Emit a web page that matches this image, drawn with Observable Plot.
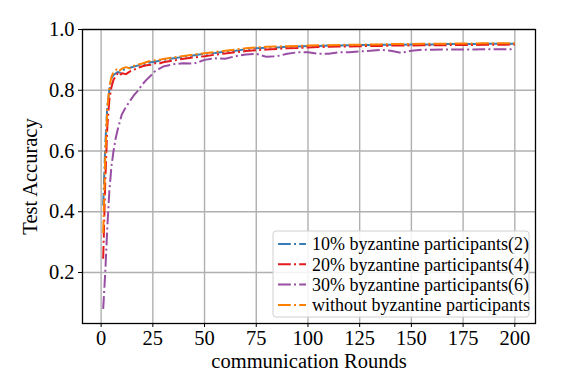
<!DOCTYPE html>
<html>
<head>
<meta charset="utf-8">
<script src="https://cdn.jsdelivr.net/npm/d3@7"></script>
<script src="https://cdn.jsdelivr.net/npm/@observablehq/plot@0.6"></script>
<style>
  html, body { margin: 0; padding: 0; background: #fff; }
  #chart { width: 576px; height: 374px; }
</style>
</head>
<body>
<div id="chart"></div>
<script>
const rounds = [1,2,3,4,5,6,7,8,9,10,
  12,14,16,18,20,22,24,26,28,30,
  35,40,45,50,55,60,65,70,75,80,85,90,95,100,105,110,115,120,125,130,
  135,140,145,150,155,160,165,170,175,180,185,190,195,200];

const seriesNames = [
  "10% byzantine participants(2)",
  "20% byzantine participants(4)",
  "30% byzantine participants(6)",
  "without byzantine participants"
];
const seriesColors = ["#377eb8", "#e41a1c", "#984ea3", "#ff7f00"];

const acc10 = [0.42,0.62,0.75,0.80,0.84,0.85,0.855,0.86,0.858,0.865,
  0.87,0.874,0.878,0.882,0.885,0.888,0.892,0.894,0.897,0.9,
  0.905,0.91,0.915,0.92,0.923,0.927,0.93,0.935,0.938,0.94,
  0.941,0.943,0.944,0.946,0.946,0.947,0.947,0.948,0.949,0.949,
  0.95,0.95,0.95,0.951,0.951,0.951,0.952,0.952,0.952,0.952,
  0.953,0.953,0.953,0.953];
const acc20 = [0.245,0.5,0.68,0.77,0.81,0.835,0.845,0.855,0.848,0.856,
  0.853,0.862,0.868,0.874,0.879,0.882,0.884,0.889,0.888,0.892,
  0.898,0.904,0.908,0.912,0.917,0.921,0.925,0.929,0.932,0.934,
  0.936,0.938,0.939,0.941,0.942,0.943,0.944,0.944,0.945,0.946,
  0.946,0.947,0.947,0.947,0.948,0.948,0.948,0.949,0.949,0.949,
  0.95,0.95,0.95,0.951];
const acc30 = [0.08,0.2,0.35,0.47,0.55,0.6,0.64,0.67,0.695,0.72,
  0.745,0.765,0.785,0.8,0.82,0.835,0.848,0.862,0.87,0.878,
  0.886,0.889,0.888,0.9,0.905,0.904,0.912,0.918,0.92,0.91,
  0.912,0.92,0.925,0.925,0.92,0.92,0.925,0.925,0.928,0.93,
  0.933,0.93,0.923,0.93,0.933,0.933,0.934,0.934,0.934,0.934,
  0.935,0.935,0.935,0.935];
const accNone = [0.33,0.58,0.74,0.81,0.845,0.86,0.866,0.872,0.865,0.871,
  0.876,0.872,0.881,0.885,0.888,0.893,0.897,0.899,0.9,0.903,
  0.908,0.913,0.918,0.922,0.926,0.93,0.934,0.938,0.941,0.943,
  0.944,0.945,0.946,0.947,0.948,0.948,0.949,0.95,0.95,0.951,
  0.951,0.952,0.952,0.952,0.953,0.953,0.953,0.954,0.954,0.954,
  0.955,0.955,0.955,0.955];

const xTicks = [0,25,50,75,100,125,150,175,200];
const yTicks = [0.2,0.4,0.6,0.8,1.0];

const allSeries = [acc10, acc20, acc30, accNone];
const data = [];
allSeries.forEach((vals, i) => {
  vals.forEach((v, j) => data.push({round: rounds[j], acc: v, series: seriesNames[i]}));
});

const font = "'Liberation Serif', 'Times New Roman', serif";
const dash = "12.8,3.2,2,3.2";

const plot = Plot.plot({
  width: 576,
  height: 374,
  marginLeft: 82,
  marginRight: 41,
  marginTop: 29,
  marginBottom: 51,
  style: {fontFamily: font, fontSize: "20px", background: "#fff", color: "#000"},
  x: {domain: [-9, 210]},
  y: {domain: [0.032, 1.0]},
  color: {domain: seriesNames, range: seriesColors},
  marks: [
    Plot.gridX(xTicks, {stroke: "#b0b0b0", strokeOpacity: 1, strokeWidth: 1.4}),
    Plot.gridY(yTicks, {stroke: "#b0b0b0", strokeOpacity: 1, strokeWidth: 1.4}),
    Plot.line(data, {x: "round", y: "acc", z: "series", stroke: "series",
      strokeWidth: 2, strokeDasharray: dash, strokeLinecap: "butt", strokeLinejoin: "round"}),
    Plot.axisX({ticks: xTicks, tickSize: 4, tickPadding: 3, fontSize: 20.5,
      label: "communication Rounds", labelAnchor: "center", labelArrow: "none", labelOffset: 44}),
    Plot.axisY({ticks: yTicks, tickSize: 4, tickPadding: 4, fontSize: 20.5, tickFormat: d3.format(".1f"),
      label: "Test Accuracy", labelAnchor: "center", labelArrow: "none", labelOffset: 60}),
    Plot.frame({stroke: "#000", strokeWidth: 1.3})
  ]
});

document.getElementById("chart").appendChild(plot);

// Legend inside the plot area (lower right)
const svg = d3.select(plot);
const lg = svg.append("g").attr("font-family", font).attr("font-size", 18)
  .attr("text-anchor", "start");
const bx = 273, by = 231, bw = 256, bh = 86;
lg.append("rect").attr("x", bx).attr("y", by).attr("width", bw).attr("height", bh)
  .attr("rx", 3).attr("fill", "#fff").attr("fill-opacity", 0.85)
  .attr("stroke", "#d0d0d0").attr("stroke-width", 1);
seriesNames.forEach((name, i) => {
  const cy = by + 13 + i * 20.3;
  lg.append("line").attr("x1", bx + 5).attr("x2", bx + 33).attr("y1", cy).attr("y2", cy)
    .attr("stroke", seriesColors[i]).attr("stroke-width", 2).attr("stroke-dasharray", dash);
  lg.append("text").attr("x", bx + 39).attr("y", cy).attr("dy", "0.35em")
    .attr("text-anchor", "start").attr("fill", "#000").text(name);
});
</script>
</body>
</html>
